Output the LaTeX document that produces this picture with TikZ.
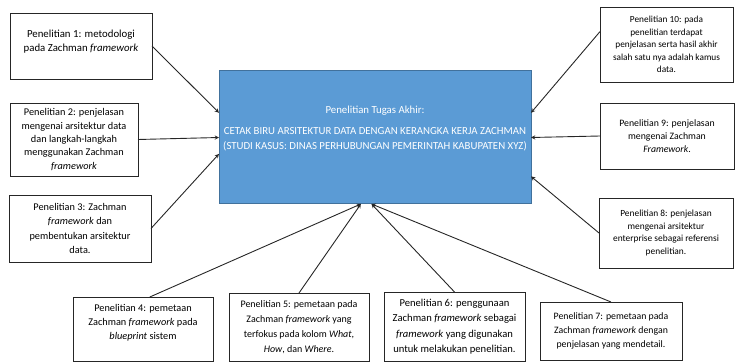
\documentclass[tikz,border=0pt]{standalone}
\usepackage{fontspec}
\setmainfont{Carlito}
\usepackage{xcolor}
\usepackage{tikz}
\usetikzlibrary{arrows.meta,positioning}
\definecolor{birutengah}{HTML}{5B9BD5}
\definecolor{birutepi}{HTML}{41719C}

\begin{document}
\begin{tikzpicture}[x=1pt,y=-1pt,>=stealth,
    kotak/.style 2 args={draw=black!85,fill=white,line width=0.8pt,align=center,
                  inner sep=1pt,outer sep=0pt,font=\fontsize{#1}{#2}\selectfont},
    pusat/.style={draw=birutepi,fill=birutengah,line width=1pt,align=center,
                  text=white,inner sep=1pt,outer sep=0pt,
                  minimum width=312pt,minimum height=133pt,
                  font=\fontsize{10.8}{15}\selectfont},
    panah/.style={->,line width=0.9pt,black!85}]
  \useasboundingbox (0,0) rectangle (735,363);

  % kotak tengah
  \node[pusat] (tugas) at (375,137.5)
    {Penelitian Tugas Akhir:\\[6pt]
     CETAK BIRU ARSITEKTUR DATA DENGAN KERANGKA KERJA ZACHMAN\\
     (STUDI KASUS: DINAS PERHUBUNGAN PEMERINTAH KABUPATEN XYZ)\\[5pt]\mbox{}};

  % kiri
  \node[kotak={10.8}{14},minimum width=142pt,minimum height=66pt] (p1) at (81,46)
    {Penelitian 1: metodologi\\ pada Zachman \textit{framework}\\[-4pt]\mbox{}};
  \node[kotak={10.3}{13.3},minimum width=128pt,minimum height=73pt] (p2) at (74,139.5)
    {Penelitian 2: penjelasan\\ mengenai arsitektur data\\ dan langkah-langkah\\
     menggunakan Zachman\\ \textit{framework}};
  \node[kotak={10.3}{14.5},minimum width=142pt,minimum height=67pt] (p3) at (80,228.5)
    {Penelitian 3: Zachman\\ \textit{framework} dan\\ pembentukan arsitektur\\ data.};

  % kanan
  \node[kotak={9.3}{12.5},minimum width=133pt,minimum height=75pt] (p10) at (666.5,44.5)
    {Penelitian 10: pada\\ penelitian terdapat\\ penjelasan serta hasil akhir\\
     salah satu nya adalah kamus\\ data.};
  \node[kotak={9.8}{12.8},minimum width=134pt,minimum height=66pt] (p9) at (667,136)
    {Penelitian 9: penjelasan\\ mengenai Zachman\\ \textit{Framework}.};
  \node[kotak={9.4}{12.8},minimum width=134pt,minimum height=70pt] (p8) at (666,233)
    {Penelitian 8: penjelasan\\ mengenai arsitektur\\ enterprise sebagai referensi\\ penelitian.};

  % bawah
  \node[kotak={10.3}{14},minimum width=140pt,minimum height=64pt] (p4) at (143,329)
    {Penelitian 4: pemetaan\\ Zachman \textit{framework} pada\\ \textit{blueprint} sistem\\ \mbox{}};
  \node[kotak={10}{15},minimum width=140pt,minimum height=68pt] (p5) at (299,327)
    {Penelitian 5: pemetaan pada\\ Zachman \textit{framework} yang\\
     terfokus pada kolom \textit{What},\\ \textit{How}, dan \textit{Where}.};
  \node[kotak={10.6}{15.5},minimum width=141pt,minimum height=69pt] (p6) at (454.5,326.5)
    {Penelitian 6: penggunaan\\ Zachman \textit{framework} sebagai\\
     \textit{framework} yang digunakan\\ untuk melakukan penelitian.};
  \node[kotak={9.8}{14},minimum width=142pt,minimum height=58pt] (p7) at (611,331)
    {Penelitian 7: pemetaan pada\\ Zachman \textit{framework} dengan\\ penjelasan yang mendetail.};

  % panah ke kotak tengah
  \draw[panah] (p1.east) -- (tugas.171);
  \draw[panah] (p2.east) -- (tugas.west);
  \draw[panah] (p3.east) -- (tugas.186);
  \draw[panah] (p10.169) -- (tugas.9);
  \draw[panah] (p9.west) -- (tugas.east);
  \draw[panah] (p8.west) -- (tugas.346);
  \draw[panah] (p4.78) -- (tugas.258);
  \draw[panah] (p5.north) -- (tugas.258);
  \draw[panah] (p6.north) -- (tugas.267);
  \draw[panah] (p7.north) -- (tugas.267);
\end{tikzpicture}
\end{document}
